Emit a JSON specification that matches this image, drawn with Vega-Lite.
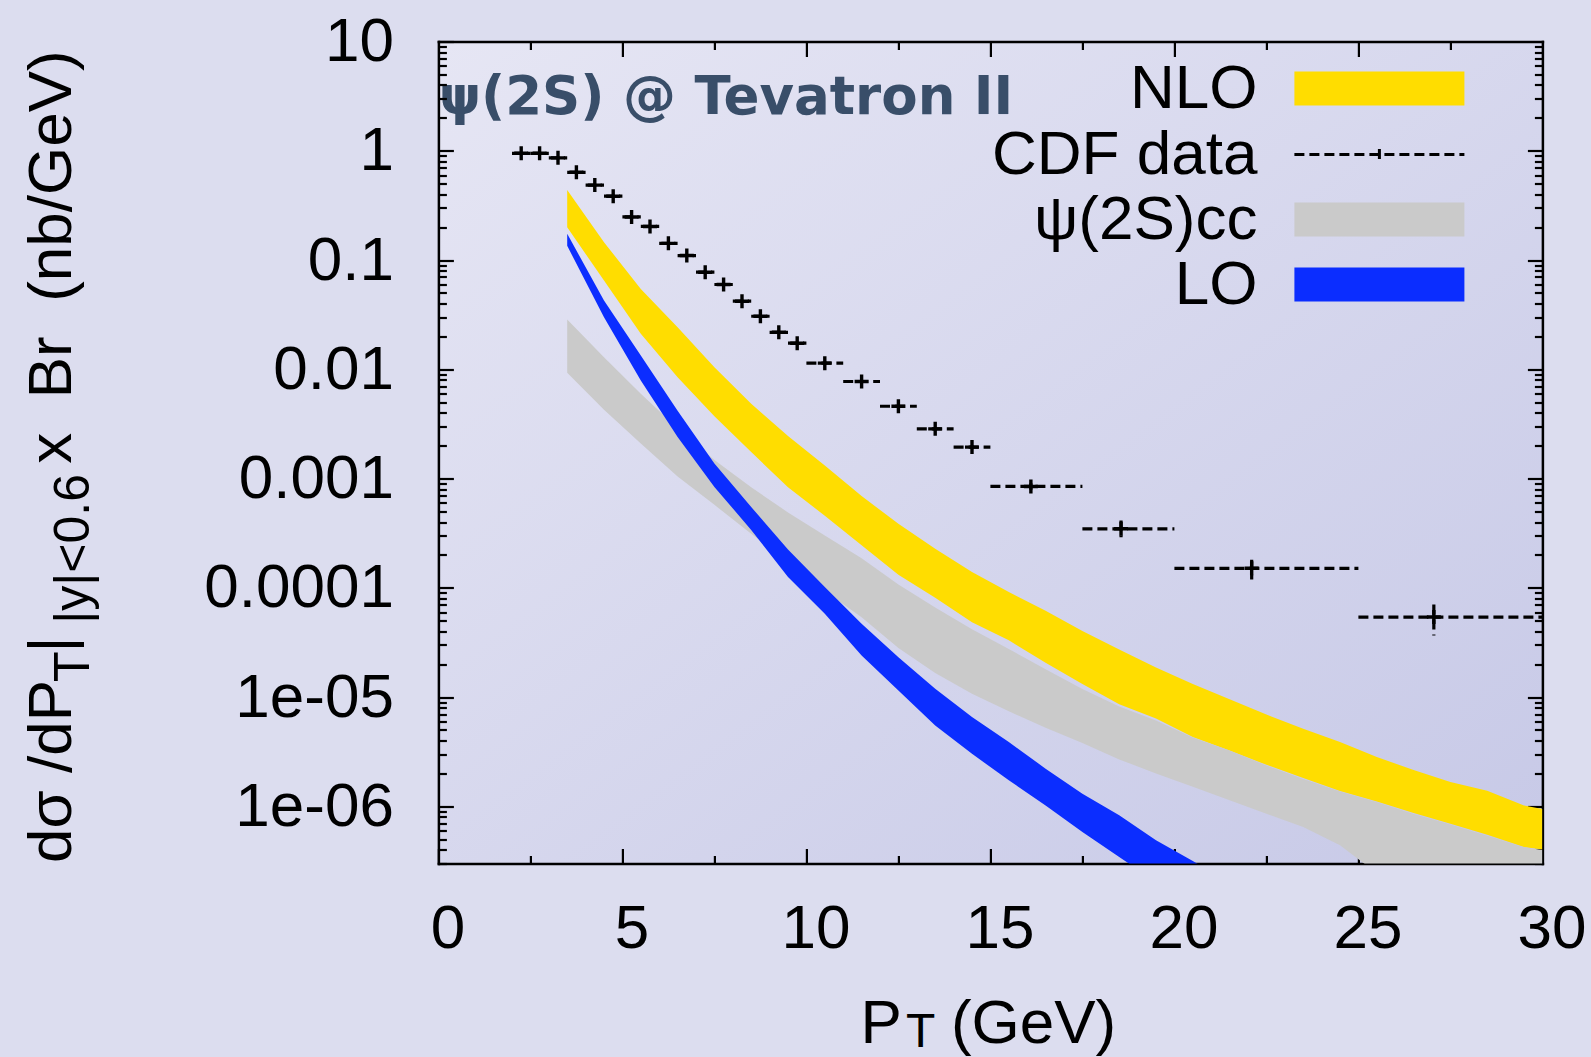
{
  "$schema": "https://vega.github.io/schema/vega-lite/v6.json",
  "width": 1104,
  "height": 822,
  "autosize": {"type": "none"},
  "padding": {"left": 438.4, "top": 41.5, "right": 48.6, "bottom": 193.5},
  "background": "#DCDDEF",
  "config": {
    "view": {"stroke": null, "fill": {"gradient": "linear", "x1": 0, "y1": 0, "x2": 1, "y2": 1, "stops": [{"offset": 0, "color": "#E6E6F4"}, {"offset": 1, "color": "#C7C9E7"}]}},
    "axis": {"grid": false, "labelFont": "Liberation Sans", "titleFont": "Liberation Sans", "labelFontSize": 62, "titleFontSize": 62, "titleFontWeight": "normal", "labelColor": "#000000", "titleColor": "#000000", "tickColor": "#000000", "domainColor": "#000000", "tickWidth": 2.2, "domainWidth": 2.5, "labelFlush": false, "labelOverlap": false, "labelBound": false, "labelLimit": 600, "titleLimit": 2000, "domainCap": "square"},
    "legend": {"title": null, "padding": 0, "labelFont": "Liberation Sans", "labelFontSize": 62, "labelColor": "#000000", "labelLimit": 1000, "labelAlign": "right", "labelBaseline": "middle", "labelOffset": -153, "symbolSize": 1156, "rowPadding": 3}
  },
  "datasets": {
    "nlo": [
      {"pT": 3.5, "series": "NLO", "lo": 0.1995, "hi": 0.4385},
      {"pT": 4.5, "series": "NLO", "lo": 0.06486, "hi": 0.1455},
      {"pT": 5.5, "series": "NLO", "lo": 0.02113, "hi": 0.05445},
      {"pT": 6.5, "series": "NLO", "lo": 0.008472, "hi": 0.02427},
      {"pT": 7.5, "series": "NLO", "lo": 0.003715, "hi": 0.01045},
      {"pT": 8.5, "series": "NLO", "lo": 0.001746, "hi": 0.004831},
      {"pT": 9.5, "series": "NLO", "lo": 0.000832, "hi": 0.002455},
      {"pT": 10.5, "series": "NLO", "lo": 0.000457, "hi": 0.001318},
      {"pT": 11.5, "series": "NLO", "lo": 0.000245, "hi": 0.000692},
      {"pT": 12.5, "series": "NLO", "lo": 0.0001318, "hi": 0.0003855},
      {"pT": 13.5, "series": "NLO", "lo": 8.13e-5, "hi": 0.0002275},
      {"pT": 14.5, "series": "NLO", "lo": 4.84e-5, "hi": 0.0001393},
      {"pT": 15.5, "series": "NLO", "lo": 3.31e-5, "hi": 9.14e-5},
      {"pT": 16.5, "series": "NLO", "lo": 2.065e-5, "hi": 6.17e-5},
      {"pT": 17.5, "series": "NLO", "lo": 1.318e-5, "hi": 4.03e-5},
      {"pT": 18.5, "series": "NLO", "lo": 8.61e-6, "hi": 2.72e-5},
      {"pT": 19.5, "series": "NLO", "lo": 6.38e-6, "hi": 1.862e-5},
      {"pT": 20.5, "series": "NLO", "lo": 4.31e-6, "hi": 1.318e-5},
      {"pT": 21.5, "series": "NLO", "lo": 3.25e-6, "hi": 9.55e-6},
      {"pT": 22.5, "series": "NLO", "lo": 2.4e-6, "hi": 6.92e-6},
      {"pT": 23.5, "series": "NLO", "lo": 1.82e-6, "hi": 5.14e-6},
      {"pT": 24.5, "series": "NLO", "lo": 1.38e-6, "hi": 3.88e-6},
      {"pT": 25.5, "series": "NLO", "lo": 1.109e-6, "hi": 2.83e-6},
      {"pT": 26.5, "series": "NLO", "lo": 8.71e-7, "hi": 2.15e-6},
      {"pT": 27.5, "series": "NLO", "lo": 6.93e-7, "hi": 1.671e-6},
      {"pT": 28.5, "series": "NLO", "lo": 5.5e-7, "hi": 1.39e-6},
      {"pT": 29.5, "series": "NLO", "lo": 4.25e-7, "hi": 1.021e-6},
      {"pT": 30, "series": "NLO", "lo": 4.02e-7, "hi": 9.44e-7}
    ],
    "cc": [
      {"pT": 3.5, "series": "ψ(2S)cc", "lo": 0.00929, "hi": 0.02858},
      {"pT": 4.5, "series": "ψ(2S)cc", "lo": 0.004266, "hi": 0.01288},
      {"pT": 5.5, "series": "ψ(2S)cc", "lo": 0.00209, "hi": 0.00597},
      {"pT": 6.5, "series": "ψ(2S)cc", "lo": 0.001047, "hi": 0.002884},
      {"pT": 7.5, "series": "ψ(2S)cc", "lo": 0.000575, "hi": 0.001479},
      {"pT": 8.5, "series": "ψ(2S)cc", "lo": 0.0003126, "hi": 0.000832},
      {"pT": 9.5, "series": "ψ(2S)cc", "lo": 0.0001698, "hi": 0.0004898},
      {"pT": 10.5, "series": "ψ(2S)cc", "lo": 9.33e-5, "hi": 0.000302},
      {"pT": 11.5, "series": "ψ(2S)cc", "lo": 5.37e-5, "hi": 0.0001862},
      {"pT": 12.5, "series": "ψ(2S)cc", "lo": 2.818e-5, "hi": 0.0001072},
      {"pT": 13.5, "series": "ψ(2S)cc", "lo": 1.66e-5, "hi": 6.61e-5},
      {"pT": 14.5, "series": "ψ(2S)cc", "lo": 1.072e-5, "hi": 4.17e-5},
      {"pT": 15.5, "series": "ψ(2S)cc", "lo": 7.41e-6, "hi": 2.754e-5},
      {"pT": 16.5, "series": "ψ(2S)cc", "lo": 5.25e-6, "hi": 1.8e-5},
      {"pT": 17.5, "series": "ψ(2S)cc", "lo": 3.8e-6, "hi": 1.189e-5},
      {"pT": 18.5, "series": "ψ(2S)cc", "lo": 2.69e-6, "hi": 8.22e-6},
      {"pT": 19.5, "series": "ψ(2S)cc", "lo": 2.0e-6, "hi": 6.1e-6},
      {"pT": 20.5, "series": "ψ(2S)cc", "lo": 1.514e-6, "hi": 4.27e-6},
      {"pT": 21.5, "series": "ψ(2S)cc", "lo": 1.135e-6, "hi": 3.24e-6},
      {"pT": 22.5, "series": "ψ(2S)cc", "lo": 8.57e-7, "hi": 2.37e-6},
      {"pT": 23.5, "series": "ψ(2S)cc", "lo": 6.46e-7, "hi": 1.778e-6},
      {"pT": 24.5, "series": "ψ(2S)cc", "lo": 4.4e-7, "hi": 1.365e-6},
      {"pT": 25.5, "series": "ψ(2S)cc", "lo": 2.45e-7, "hi": 1.096e-6},
      {"pT": 26.5, "series": "ψ(2S)cc", "lo": 1.85e-7, "hi": 8.51e-7},
      {"pT": 27.5, "series": "ψ(2S)cc", "lo": 1.4e-7, "hi": 6.84e-7},
      {"pT": 28.5, "series": "ψ(2S)cc", "lo": 1.1e-7, "hi": 5.37e-7},
      {"pT": 29.5, "series": "ψ(2S)cc", "lo": 8.6e-8, "hi": 4.22e-7},
      {"pT": 30, "series": "ψ(2S)cc", "lo": 7.7e-8, "hi": 3.98e-7}
    ],
    "lo": [
      {"pT": 3.5, "series": "LO", "lo": 0.1349, "hi": 0.1738},
      {"pT": 4.5, "series": "LO", "lo": 0.02999, "hi": 0.04266},
      {"pT": 5.5, "series": "LO", "lo": 0.00791, "hi": 0.01337},
      {"pT": 6.5, "series": "LO", "lo": 0.002399, "hi": 0.004169},
      {"pT": 7.5, "series": "LO", "lo": 0.000839, "hi": 0.001371},
      {"pT": 8.5, "series": "LO", "lo": 0.0003388, "hi": 0.0005495},
      {"pT": 9.5, "series": "LO", "lo": 0.0001259, "hi": 0.0002239},
      {"pT": 10.5, "series": "LO", "lo": 5.79e-5, "hi": 0.0001016},
      {"pT": 11.5, "series": "LO", "lo": 2.4e-5, "hi": 4.69e-5},
      {"pT": 12.5, "series": "LO", "lo": 1.151e-5, "hi": 2.32e-5},
      {"pT": 13.5, "series": "LO", "lo": 5.51e-6, "hi": 1.191e-5},
      {"pT": 14.5, "series": "LO", "lo": 3.03e-6, "hi": 6.56e-6},
      {"pT": 15.5, "series": "LO", "lo": 1.73e-6, "hi": 3.88e-6},
      {"pT": 16.5, "series": "LO", "lo": 1.021e-6, "hi": 2.213e-6},
      {"pT": 17.5, "series": "LO", "lo": 5.82e-7, "hi": 1.306e-6},
      {"pT": 18.5, "series": "LO", "lo": 3.44e-7, "hi": 8.28e-7},
      {"pT": 19.5, "series": "LO", "lo": 2.04e-7, "hi": 4.89e-7},
      {"pT": 20.5, "series": "LO", "lo": 1.26e-7, "hi": 3.16e-7},
      {"pT": 21.5, "series": "LO", "lo": 7.9e-8, "hi": 2.0e-7}
    ],
    "cdf": [
      {"series": "CDF data", "x": 2.25, "xlo": 2.0, "xhi": 2.5, "y": 0.948, "ylo": 0.92, "yhi": 0.976},
      {"series": "CDF data", "x": 2.75, "xlo": 2.5, "xhi": 3.0, "y": 0.948, "ylo": 0.92, "yhi": 0.976},
      {"series": "CDF data", "x": 3.25, "xlo": 3.0, "xhi": 3.5, "y": 0.861, "ylo": 0.835, "yhi": 0.887},
      {"series": "CDF data", "x": 3.75, "xlo": 3.5, "xhi": 4.0, "y": 0.635, "ylo": 0.616, "yhi": 0.654},
      {"series": "CDF data", "x": 4.25, "xlo": 4.0, "xhi": 4.5, "y": 0.485, "ylo": 0.47, "yhi": 0.5},
      {"series": "CDF data", "x": 4.75, "xlo": 4.5, "xhi": 5.0, "y": 0.384, "ylo": 0.372, "yhi": 0.396},
      {"series": "CDF data", "x": 5.25, "xlo": 5.0, "xhi": 5.5, "y": 0.248, "ylo": 0.24, "yhi": 0.256},
      {"series": "CDF data", "x": 5.75, "xlo": 5.5, "xhi": 6.0, "y": 0.203, "ylo": 0.197, "yhi": 0.209},
      {"series": "CDF data", "x": 6.25, "xlo": 6.0, "xhi": 6.5, "y": 0.1422, "ylo": 0.138, "yhi": 0.1465},
      {"series": "CDF data", "x": 6.75, "xlo": 6.5, "xhi": 7.0, "y": 0.1099, "ylo": 0.1066, "yhi": 0.1132},
      {"series": "CDF data", "x": 7.25, "xlo": 7.0, "xhi": 7.5, "y": 0.0774, "ylo": 0.0751, "yhi": 0.0797},
      {"series": "CDF data", "x": 7.75, "xlo": 7.5, "xhi": 8.0, "y": 0.0597, "ylo": 0.0579, "yhi": 0.0615},
      {"series": "CDF data", "x": 8.25, "xlo": 8.0, "xhi": 8.5, "y": 0.042, "ylo": 0.0407, "yhi": 0.0433},
      {"series": "CDF data", "x": 8.75, "xlo": 8.5, "xhi": 9.0, "y": 0.0306, "ylo": 0.0297, "yhi": 0.0315},
      {"series": "CDF data", "x": 9.25, "xlo": 9.0, "xhi": 9.5, "y": 0.0218, "ylo": 0.0211, "yhi": 0.0225},
      {"series": "CDF data", "x": 9.75, "xlo": 9.5, "xhi": 10.0, "y": 0.01734, "ylo": 0.0168, "yhi": 0.0179},
      {"series": "CDF data", "x": 10.5, "xlo": 10.0, "xhi": 11.0, "y": 0.01138, "ylo": 0.011, "yhi": 0.0118},
      {"series": "CDF data", "x": 11.5, "xlo": 11.0, "xhi": 12.0, "y": 0.00773, "ylo": 0.00748, "yhi": 0.00798},
      {"series": "CDF data", "x": 12.5, "xlo": 12.0, "xhi": 13.0, "y": 0.00459, "ylo": 0.00443, "yhi": 0.00475},
      {"series": "CDF data", "x": 13.5, "xlo": 13.0, "xhi": 14.0, "y": 0.00285, "ylo": 0.00274, "yhi": 0.00296},
      {"series": "CDF data", "x": 14.5, "xlo": 14.0, "xhi": 15.0, "y": 0.00194, "ylo": 0.00186, "yhi": 0.00202},
      {"series": "CDF data", "x": 16.1, "xlo": 15.0, "xhi": 17.5, "y": 0.000847, "ylo": 0.00079, "yhi": 0.000905},
      {"series": "CDF data", "x": 18.55, "xlo": 17.5, "xhi": 20.0, "y": 0.000347, "ylo": 0.000291, "yhi": 0.000414},
      {"series": "CDF data", "x": 22.1, "xlo": 20.0, "xhi": 25.0, "y": 0.000151, "ylo": 0.0001194, "yhi": 0.0001807},
      {"series": "CDF data", "x": 27.05, "xlo": 25.0, "xhi": 30.0, "y": 5.4e-5, "ylo": 3.66e-5, "yhi": 7.05e-5}
    ]
  },
  "resolve": {"axis": {"x": "independent", "y": "independent"}},
  "layer": [
    {
      "data": {"name": "nlo"},
      "mark": {"type": "area", "clip": true, "opacity": 1},
      "encoding": {
        "x": {"field": "pT", "type": "quantitative", "scale": {"domain": [0, 30], "nice": false, "zero": false},
          "axis": {"orient": "bottom", "values": [0, 5, 10, 15, 20, 25, 30], "tickSize": -15, "labelPadding": 50, "labelOffset": 9, "domain": true, "format": "d",
            "title": "P", "titleX": 421.6, "titleY": 178.5, "titleAlign": "left", "titleBaseline": "alphabetic", "titleAngle": 0}},
        "y": {"field": "lo", "type": "quantitative", "scale": {"type": "log", "domain": [3e-7, 10], "nice": false},
          "axis": {"orient": "left", "values": [1e-6, 1e-5, 0.0001, 0.001, 0.01, 0.1, 1, 10], "tickSize": -15, "labelPadding": 60, "domain": true,
            "labelExpr": "datum.value >= 0.0001 ? format(datum.value, '~g') : replace(format(datum.value, '.0e'), 'e-', 'e-0')",
            "title": "dσ /dP", "titleX": -368.4, "titleY": 729.5, "titleAngle": 270, "titleAlign": "center", "titleBaseline": "alphabetic"}},
        "y2": {"field": "hi"},
        "fill": {"field": "series", "type": "nominal",
          "scale": {"domain": ["NLO"], "range": ["#FFDD00"]},
          "legend": {"orient": "none", "legendX": 910, "legendY": 16, "symbolType": "M-5,-1H5V1H-5Z", "symbolStrokeWidth": 0}}
      }
    },
    {
      "data": {"name": "cc"},
      "mark": {"type": "area", "clip": true, "opacity": 1},
      "encoding": {
        "x": {"field": "pT", "type": "quantitative", "scale": {"domain": [0, 30], "nice": false, "zero": false},
          "axis": {"orient": "bottom", "values": [2.5, 7.5, 12.5, 17.5, 22.5, 27.5], "tickSize": -8, "labels": false, "domain": false,
            "title": "T", "titleFontSize": 48, "titleX": 467, "titleY": 182.5, "titleAlign": "left", "titleBaseline": "alphabetic", "titleAngle": 0}},
        "y": {"field": "lo", "type": "quantitative", "scale": {"type": "log", "domain": [3e-7, 10], "nice": false},
          "axis": {"orient": "left", "values": [3e-7, 4e-7, 5e-7, 6e-7, 7e-7, 8e-7, 9e-7, 2e-6, 3e-6, 4e-6, 5e-6, 6e-6, 7e-6, 8e-6, 9e-6, 2e-5, 3e-5, 4e-5, 5e-5, 6e-5, 7e-5, 8e-5, 9e-5, 0.0002, 0.0003, 0.0004, 0.0005, 0.0006, 0.0007, 0.0008, 0.0009, 0.002, 0.003, 0.004, 0.005, 0.006, 0.007, 0.008, 0.009, 0.02, 0.03, 0.04, 0.05, 0.06, 0.07, 0.08, 0.09, 0.2, 0.3, 0.4, 0.5, 0.6, 0.7, 0.8, 0.9, 2, 3, 4, 5, 6, 7, 8, 9],
            "tickSize": -8, "labels": false, "domain": false,
            "title": "T\u00a0\u00a0|y|<0.6", "titleFontSize": 50, "titleX": -350.4, "titleY": 536, "titleAngle": 270, "titleAlign": "center", "titleBaseline": "alphabetic"}},
        "y2": {"field": "hi"},
        "color": {"field": "series", "type": "nominal",
          "scale": {"domain": ["ψ(2S)cc", "LO"], "range": ["#CACACA", "#0B2DFF"]},
          "legend": {"orient": "none", "legendX": 910, "legendY": 147, "symbolType": "M-5,-1H5V1H-5Z", "symbolStrokeWidth": 0}}
      }
    },
    {
      "data": {"name": "lo"},
      "mark": {"type": "area", "clip": true, "opacity": 1},
      "encoding": {
        "x": {"field": "pT", "type": "quantitative", "scale": {"domain": [0, 30], "nice": false, "zero": false},
          "axis": {"orient": "top", "values": [5, 10, 15, 20, 25], "tickSize": -15, "labels": false, "domain": true,
            "title": "ψ(2S) @ Tevatron II", "titleFont": "DejaVu Sans", "titleFontSize": 53, "titleFontWeight": "bold", "titleColor": "#394E69", "titleX": 0, "titleY": 72, "titleAlign": "left", "titleBaseline": "alphabetic", "titleAngle": 0}},
        "y": {"field": "lo", "type": "quantitative", "scale": {"type": "log", "domain": [3e-7, 10], "nice": false},
          "axis": {"orient": "right", "values": [1e-6, 1e-5, 0.0001, 0.001, 0.01, 0.1, 1], "tickSize": -15, "labels": false, "domain": true,
            "title": "x\u00a0\u00a0Br\u00a0\u00a0(nb/GeV)", "titleX": -1472.4, "titleY": 215, "titleAngle": 270, "titleAlign": "center", "titleBaseline": "alphabetic"}},
        "y2": {"field": "hi"},
        "color": {"field": "series", "type": "nominal",
          "scale": {"domain": ["ψ(2S)cc", "LO"], "range": ["#CACACA", "#0B2DFF"]},
          "legend": {"orient": "none", "legendX": 910, "legendY": 147, "symbolType": "M-5,-1H5V1H-5Z", "symbolStrokeWidth": 0}}
      }
    },
    {
      "data": {"name": "cdf"},
      "mark": {"type": "rule", "clip": true, "strokeWidth": 3.2, "strokeDash": [10, 5]},
      "encoding": {
        "x": {"field": "xlo", "type": "quantitative", "scale": {"domain": [0, 30], "nice": false, "zero": false},
          "axis": {"orient": "top", "values": [2.5, 7.5, 12.5, 17.5, 22.5, 27.5], "tickSize": -8, "labels": false, "domain": false,
            "title": "(GeV)", "titleX": 512, "titleY": 1000.5, "titleAlign": "left", "titleBaseline": "alphabetic", "titleAngle": 0}},
        "x2": {"field": "xhi"},
        "y": {"field": "y", "type": "quantitative", "scale": {"type": "log", "domain": [3e-7, 10], "nice": false},
          "axis": {"orient": "right", "values": [3e-7, 4e-7, 5e-7, 6e-7, 7e-7, 8e-7, 9e-7, 2e-6, 3e-6, 4e-6, 5e-6, 6e-6, 7e-6, 8e-6, 9e-6, 2e-5, 3e-5, 4e-5, 5e-5, 6e-5, 7e-5, 8e-5, 9e-5, 0.0002, 0.0003, 0.0004, 0.0005, 0.0006, 0.0007, 0.0008, 0.0009, 0.002, 0.003, 0.004, 0.005, 0.006, 0.007, 0.008, 0.009, 0.02, 0.03, 0.04, 0.05, 0.06, 0.07, 0.08, 0.09, 0.2, 0.3, 0.4, 0.5, 0.6, 0.7, 0.8, 0.9, 2, 3, 4, 5, 6, 7, 8, 9],
            "tickSize": -8, "labels": false, "domain": false,
            "title": "|", "titleX": -1472.4, "titleY": 602.5, "titleAngle": 270, "titleAlign": "center", "titleBaseline": "alphabetic"}},
        "stroke": {"field": "series", "type": "nominal",
          "scale": {"domain": ["CDF data"], "range": ["#000000"]},
          "legend": {"orient": "none", "legendX": 910, "legendY": 82, "symbolType": "M0,-0.32V0.32M-5,0H5", "symbolDash": [10, 5], "symbolStrokeWidth": 3, "symbolFillColor": "transparent", "symbolStrokeColor": "#000000"}}
      }
    },
    {
      "data": {"name": "cdf"},
      "mark": {"type": "rule", "clip": true, "color": "#000000", "strokeWidth": 3.2, "strokeDash": [10, 5]},
      "encoding": {
        "x": {"field": "x", "type": "quantitative", "scale": {"domain": [0, 30], "nice": false, "zero": false}, "axis": null},
        "y": {"field": "yhi", "type": "quantitative", "scale": {"type": "log", "domain": [3e-7, 10], "nice": false}, "axis": null},
        "y2": {"field": "ylo"}
      }
    },
    {
      "data": {"name": "cdf"},
      "mark": {"type": "point", "clip": true, "shape": "M-1,0H1M0,-1V1", "size": 196, "filled": false, "color": "#000000", "strokeWidth": 3.4, "opacity": 1},
      "encoding": {
        "x": {"field": "x", "type": "quantitative", "scale": {"domain": [0, 30], "nice": false, "zero": false}, "axis": null},
        "y": {"field": "y", "type": "quantitative", "scale": {"type": "log", "domain": [3e-7, 10], "nice": false}, "axis": null}
      }
    }
  ]
}
